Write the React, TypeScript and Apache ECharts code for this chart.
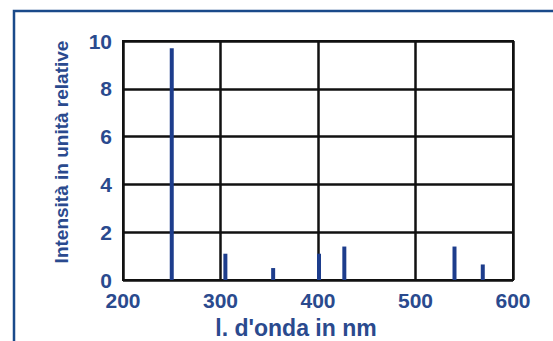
import React, { useEffect, useRef } from "react";
import * as echarts from "echarts";

const wavelengths = [250, 305, 354, 401, 427, 540, 569];
const intensities = [9.7, 1.1, 0.5, 1.1, 1.4, 1.4, 0.65];
const xTicks = [200, 300, 400, 500, 600];
const yTicks = [0, 2, 4, 6, 8, 10];
const yName = "Intensità in unità relative";
const xName = "l. d'onda in nm";

const TEXT = "#2a4a8e";
const BAR = "#1d3d8c";

export default function App() {
  const ref = useRef<HTMLDivElement>(null);
  useEffect(() => {
    if (!ref.current) return;
    const chart = echarts.init(ref.current, undefined, { renderer: "svg" });
    chart.setOption({
      animation: false,
      backgroundColor: "#ffffff",
      grid: {
        left: 123,
        right: 40,
        top: 41,
        bottom: 61,
        show: true,
        borderColor: "#111",
        borderWidth: 2,
      },
      xAxis: {
        type: "value",
        min: xTicks[0],
        max: xTicks[xTicks.length - 1],
        interval: 100,
        axisLine: { show: true, lineStyle: { color: "#111", width: 2 } },
        axisTick: { show: false },
        splitLine: { show: true, lineStyle: { color: "#111", width: 2.5 } },
        axisLabel: {
          color: TEXT,
          fontFamily: "Liberation Sans, Arial, sans-serif",
          fontWeight: "bold",
          fontSize: 21,
          margin: 10,
        },
      },
      yAxis: {
        type: "value",
        min: yTicks[0],
        max: yTicks[yTicks.length - 1],
        interval: 2,
        axisLine: { show: true, lineStyle: { color: "#111", width: 2 } },
        axisTick: { show: false },
        splitLine: { show: true, lineStyle: { color: "#111", width: 2.5 } },
        axisLabel: {
          color: TEXT,
          fontFamily: "Liberation Sans, Arial, sans-serif",
          fontWeight: "bold",
          fontSize: 21,
          margin: 11,
        },
      },
      series: [
        {
          type: "bar",
          data: wavelengths.map((w, i) => [w, intensities[i]]),
          barWidth: 4,
          itemStyle: { color: BAR },
        },
      ],
      graphic: [
        {
          type: "rect",
          shape: { x: 14, y: 11, width: 700, height: 500 },
          style: { fill: "none", stroke: "#1a4a8a", lineWidth: 2.5 },
          silent: true,
        },
        {
          type: "text",
          x: 61,
          y: 152,
          rotation: Math.PI / 2,
          style: {
            text: yName,
            fill: TEXT,
            font: "bold 19px 'Liberation Sans', Arial, sans-serif",
            align: "center",
            verticalAlign: "middle",
          },
        },
        {
          type: "text",
          x: 296,
          y: 328,
          style: {
            text: xName,
            fill: TEXT,
            font: "bold 23px 'Liberation Sans', Arial, sans-serif",
            align: "center",
            verticalAlign: "middle",
          },
        },
      ],
    });
    return () => chart.dispose();
  }, []);
  return (
    <div
      ref={ref}
      style={{ position: "fixed", left: 0, top: 0, width: 553, height: 341 }}
    />
  );
}
